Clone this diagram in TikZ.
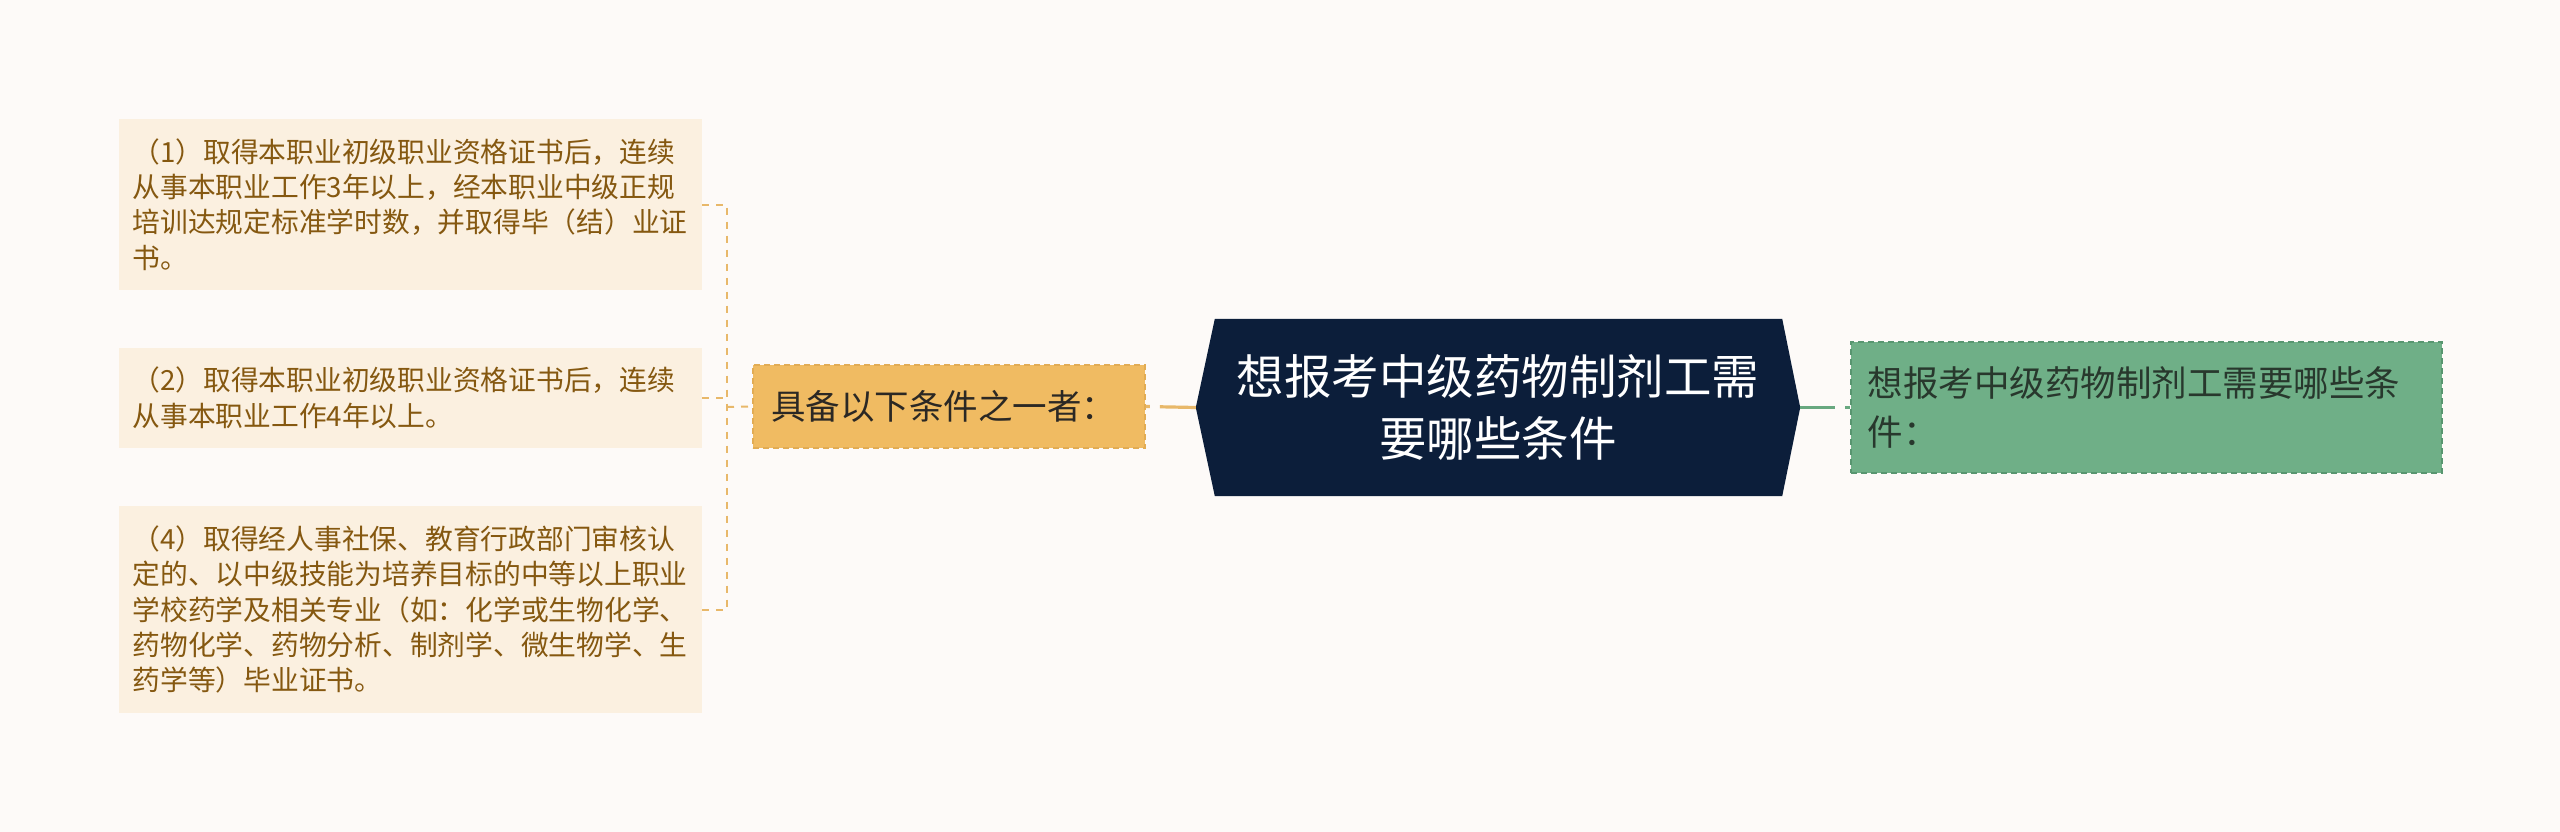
\documentclass[tikz,border=0pt]{standalone}
\usepackage{fontspec}
\setmainfont{Noto Sans CJK SC}
\pgfdeclarelayer{background}
\pgfsetlayers{background,main}
\definecolor{bg}{RGB}{253,250,248}
\definecolor{leaffill}{RGB}{251,240,224}
\definecolor{leaftext}{RGB}{133,88,16}
\definecolor{orangeline}{RGB}{232,184,106}
\definecolor{midfill}{RGB}{240,187,98}
\definecolor{midborder}{RGB}{226,172,84}
\definecolor{midtext}{RGB}{43,40,36}
\definecolor{navy}{RGB}{12,30,58}
\definecolor{greenfill}{RGB}{111,175,135}
\definecolor{greenborder}{RGB}{88,150,112}
\definecolor{greenline}{RGB}{104,168,128}
\definecolor{greentext}{RGB}{40,56,45}
\tikzset{
  leafbox/.style={fill=leaffill, text=leaftext, text width=556pt, align=left,
    inner xsep=13.5pt, inner ysep=19pt,
    font=\fontsize{27.75pt}{35.4pt}\selectfont},
  midbox/.style={fill=midfill, draw=midborder, line width=1.5pt, dash pattern=on 6pt off 4pt,
    text=midtext, text width=356pt, align=left, inner xsep=18pt,
    minimum height=83pt, font=\fontsize{34.5pt}{40pt}\selectfont},
  centerbox/.style={text=white, align=center, minimum width=604pt, minimum height=177pt,
    inner sep=0pt, font=\fontsize{47.5pt}{62pt}\selectfont},
  greenbox/.style={fill=greenfill, draw=greenborder, line width=1.5pt, dash pattern=on 6pt off 4pt,
    text=greentext, text width=557pt, align=left, inner xsep=17pt, minimum height=131pt,
    font=\fontsize{35.5pt}{49pt}\selectfont},
  bracketline/.style={draw=orangeline, line width=2pt, dash pattern=on 7pt off 7pt},
  linkline/.style={line width=3.2pt},
}
\begin{document}
\begin{tikzpicture}[x=1pt,y=-1pt]
\begin{pgfonlayer}{background}
\fill[bg] (0,0) rectangle (2560,832);
\end{pgfonlayer}
\useasboundingbox (0,0) rectangle (2560,832);

% leaves
\node[leafbox] (b1) at (410.5,204.5) {（1）取得本职业初级职业资格证书后，连续\\从事本职业工作3年以上，经本职业中级正规\\培训达规定标准学时数，并取得毕（结）业证\\书。};
\node[leafbox] (b2) at (410.5,398) {（2）取得本职业初级职业资格证书后，连续\\从事本职业工作4年以上。};
\node[leafbox] (b3) at (410.5,609.5) {（4）取得经人事社保、教育行政部门审核认\\定的、以中级技能为培养目标的中等以上职业\\学校药学及相关专业（如：化学或生物化学、\\药物化学、药物分析、制剂学、微生物学、生\\药学等）毕业证书。};

% middle node
\node[midbox] (mid) at (949,406.5) {具备以下条件之一者：};

% central node
\node[centerbox] (c) at (1498,407.5) {想报考中级药物制剂工需\\要哪些条件};
\begin{pgfonlayer}{background}
\fill[navy] (c.west) -- ([xshift=19pt]c.north west) -- ([xshift=-18pt]c.north east) -- (c.east)
  -- ([xshift=-18pt]c.south east) -- ([xshift=19pt]c.south west) -- cycle;
\end{pgfonlayer}

% green node
\node[greenbox] (g) at (1645.5,407.5) [anchor=west, xshift=204.5pt] {想报考中级药物制剂工需要哪些条\\件：};

% bracket
\coordinate (jx) at (727,407);
\draw[bracketline] (b1.east) -- (b1.east -| jx) -- (b3.east -| jx) -- (b3.east);
\draw[bracketline] (b2.east) -- (b2.east -| jx);
\draw[bracketline] (jx) -- (mid.west);

% links
\draw[linkline, draw=orangeline, dash pattern=on 36pt off 10pt on 30pt] (c.west) -- (mid.east);
\draw[linkline, draw=greenline, dash pattern=on 35pt off 10pt on 30pt] (c.east) -- (g.west);
\end{tikzpicture}
\end{document}
